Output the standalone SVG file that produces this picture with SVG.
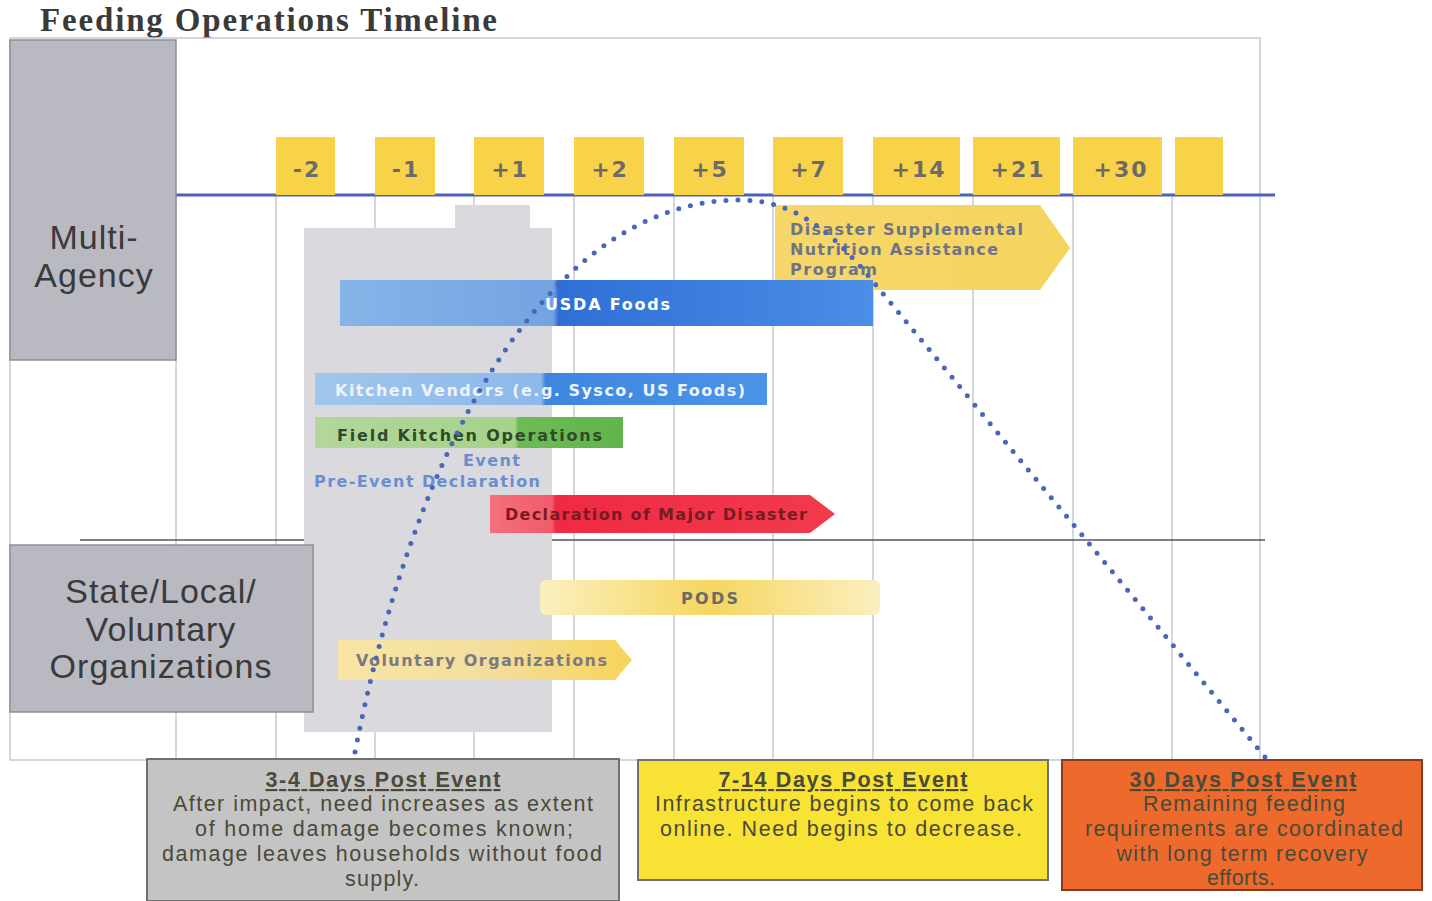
<svg xmlns="http://www.w3.org/2000/svg" width="1432" height="901" viewBox="0 0 1432 901">
<defs>
<linearGradient id="gUsda" x1="0" x2="1" y1="0" y2="0"><stop offset="0" stop-color="#86b4e8"/><stop offset="0.4" stop-color="#72a4e2"/><stop offset="0.41" stop-color="#2f6fd6"/><stop offset="1" stop-color="#4a8ee6"/></linearGradient>
<linearGradient id="gKit" x1="0" x2="1"><stop offset="0" stop-color="#a0c6ec"/><stop offset="0.5" stop-color="#8cb8ea"/><stop offset="0.51" stop-color="#3d86e0"/><stop offset="1" stop-color="#4d94e8"/></linearGradient>
<linearGradient id="gField" x1="0" x2="1"><stop offset="0" stop-color="#b3d69c"/><stop offset="0.65" stop-color="#a6d28a"/><stop offset="0.66" stop-color="#6dbb55"/><stop offset="1" stop-color="#62b44c"/></linearGradient>
<linearGradient id="gRed" x1="0" x2="1"><stop offset="0" stop-color="#f47080"/><stop offset="0.18" stop-color="#f25a6a"/><stop offset="0.19" stop-color="#ef2a44"/><stop offset="1" stop-color="#f23a4c"/></linearGradient>
<linearGradient id="gSnap" x1="0" x2="1"><stop offset="0" stop-color="#f7d76a"/><stop offset="1" stop-color="#f5d45e"/></linearGradient>
<linearGradient id="gPods" x1="0" x2="1"><stop offset="0" stop-color="#fbf0c0"/><stop offset="0.5" stop-color="#f5d660"/><stop offset="1" stop-color="#fbefc0"/></linearGradient>
<linearGradient id="gVol" x1="0" x2="1"><stop offset="0" stop-color="#f8e5a4"/><stop offset="0.5" stop-color="#f3dea0"/><stop offset="1" stop-color="#f7d45a"/></linearGradient>
<style>
.grid{stroke:#c9c9d3;stroke-width:1.5;fill:none}
.day{fill:#f8d34a}
.dayt{font-family:"DejaVu Sans",sans-serif;font-weight:bold;font-size:22px;letter-spacing:2px;fill:#6b6b6b;text-anchor:middle}
.bart{font-family:"DejaVu Sans",sans-serif;font-weight:bold;font-size:16px}
.lane{fill:#b9b9c1;stroke:#8e8e98;stroke-width:1.5}
.lanet{font-family:"Liberation Sans",Arial,sans-serif;font-size:34px;letter-spacing:1px;fill:#3a3a3a;text-anchor:middle}
.boxt{font-family:"Liberation Sans",Arial,sans-serif;font-size:21.5px;fill:#4a4a3a;text-anchor:middle}
.boxh{font-weight:bold;text-decoration:underline}
</style>
</defs>
<rect width="1432" height="901" fill="#ffffff"/>
<text x="40" y="31" font-family="Liberation Serif,serif" font-weight="bold" font-size="33" fill="#3a3a3a" textLength="457" lengthAdjust="spacing">Feeding Operations Timeline</text>

<g id="frame">
<path class="grid" d="M10,38 H1260 V760 M10,38 V760 H1260"/>
<path class="grid" d="M176,195 V760 M276,195 V760 M375,195 V760 M474,195 V760 M574,195 V760 M674,195 V760 M773,195 V760 M873,195 V760 M973,195 V760 M1073,195 V760 M1172,195 V760"/>
<line x1="176" y1="195" x2="1275" y2="195" stroke="#4a62b8" stroke-width="3"/>
<line x1="80" y1="540" x2="1265" y2="540" stroke="#555560" stroke-width="1.5"/>
</g>

<g id="days">
<rect class="day" x="276" y="137" width="59" height="58"/><text class="dayt" x="307" y="177">-2</text>
<rect class="day" x="375" y="137" width="60" height="58"/><text class="dayt" x="406" y="177">-1</text>
<rect class="day" x="474" y="137" width="70" height="58"/><text class="dayt" x="510" y="177">+1</text>
<rect class="day" x="574" y="137" width="70" height="58"/><text class="dayt" x="610" y="177">+2</text>
<rect class="day" x="674" y="137" width="70" height="58"/><text class="dayt" x="710" y="177">+5</text>
<rect class="day" x="773" y="137" width="70" height="58"/><text class="dayt" x="809" y="177">+7</text>
<rect class="day" x="873" y="137" width="87" height="58"/><text class="dayt" x="919" y="177">+14</text>
<rect class="day" x="973" y="137" width="87" height="58"/><text class="dayt" x="1018" y="177">+21</text>
<rect class="day" x="1073" y="137" width="89" height="58"/><text class="dayt" x="1121" y="177">+30</text>
<rect class="day" x="1175" y="137" width="48" height="58"/>
</g>

<g id="shade">
<rect x="455" y="205" width="75" height="30" fill="#dadade"/>
<rect x="304" y="228" width="248" height="504" fill="#dadade"/>
</g>

<g id="lane-multi">
<rect class="lane" x="10" y="40" width="166" height="320"/>
<text class="lanet" x="94" y="249">Multi-</text>
<text class="lanet" x="94" y="287">Agency</text>
</g>
<g id="lane-state">
<rect class="lane" x="10" y="545" width="303" height="167"/>
<text class="lanet" x="161" y="603">State/Local/</text>
<text class="lanet" x="161" y="641">Voluntary</text>
<text class="lanet" x="161" y="678">Organizations</text>
</g>

<g id="dsnap">
<path d="M775,205 H1040 L1070,248 L1040,290 H775 Z" fill="url(#gSnap)"/>
<text class="bart" x="790" y="235" fill="#6e7488" textLength="233" lengthAdjust="spacing">Disaster Supplemental</text>
<text class="bart" x="790" y="255" fill="#6e7488" textLength="208" lengthAdjust="spacing">Nutrition Assistance</text>
<text class="bart" x="790" y="275" fill="#6e7488" textLength="87" lengthAdjust="spacing">Program</text>
</g>
<g id="usda">
<rect x="340" y="280" width="533" height="46" fill="url(#gUsda)"/>
<text class="bart" x="545" y="310" fill="#ffffff" textLength="125" lengthAdjust="spacing">USDA Foods</text>
</g>
<g id="vendors">
<rect x="315" y="373" width="452" height="32" fill="url(#gKit)"/>
<text class="bart" x="335" y="396" fill="#eef3fb" textLength="410" lengthAdjust="spacing">Kitchen Vendors (e.g. Sysco, US Foods)</text>
</g>
<g id="field">
<rect x="315" y="417" width="308" height="31" fill="url(#gField)"/>
<text class="bart" x="337" y="441" fill="#2f4a2a" textLength="265" lengthAdjust="spacing">Field Kitchen Operations</text>
</g>
<g id="predecl">
<text class="bart" x="463" y="466" fill="#6a8ed0" textLength="57" lengthAdjust="spacing">Event</text>
<text class="bart" x="314" y="487" fill="#6a8ed0" textLength="226" lengthAdjust="spacing">Pre-Event Declaration</text>
</g>
<g id="major">
<path d="M490,495 H810 L835,514 L810,533 H490 Z" fill="url(#gRed)"/>
<text class="bart" x="505" y="520" fill="#7a1a22" textLength="302" lengthAdjust="spacing">Declaration of Major Disaster</text>
</g>
<g id="pods">
<rect x="540" y="580" width="340" height="35" rx="6" fill="url(#gPods)"/>
<text class="bart" x="681" y="604" fill="#6a6a6a" textLength="57" lengthAdjust="spacing">PODS</text>
</g>
<g id="voluntary">
<path d="M338,640 H615 L632,660 L615,680 H338 Z" fill="url(#gVol)"/>
<text class="bart" x="356" y="666" fill="#7a7a80" textLength="251" lengthAdjust="spacing">Voluntary Organizations</text>
</g>

<g id="connectors">
<path d="M355,752 C420,420 560,200 740,200 C800,200 840,240 880,290 L1265,757" fill="none" stroke="#4a66b8" stroke-width="5" stroke-linecap="round" stroke-dasharray="0 12"/>
</g>

<g id="box-3-4">
<rect x="147" y="759" width="472" height="142" fill="#c4c4c4" stroke="#707070" stroke-width="2"/>
<text class="boxt boxh" x="383" y="787" textLength="235" lengthAdjust="spacing">3-4 Days Post Event</text>
<text class="boxt" x="383" y="811" textLength="420" lengthAdjust="spacing">After impact, need increases as extent</text>
<text class="boxt" x="384" y="836" textLength="378" lengthAdjust="spacing">of home damage becomes known;</text>
<text class="boxt" x="382" y="861" textLength="440" lengthAdjust="spacing">damage leaves households without food</text>
<text class="boxt" x="382" y="886" textLength="74" lengthAdjust="spacing">supply.</text>
</g>
<g id="box-7-14">
<rect x="638" y="760" width="410" height="120" fill="#f8e234" stroke="#707070" stroke-width="2"/>
<text class="boxt boxh" x="843" y="787" textLength="249" lengthAdjust="spacing">7-14 Days Post Event</text>
<text class="boxt" x="844" y="811" textLength="378" lengthAdjust="spacing">Infrastructure begins to come back</text>
<text class="boxt" x="841" y="836" textLength="362" lengthAdjust="spacing">online.  Need begins to decrease.</text>
</g>
<g id="box-30">
<rect x="1062" y="760" width="360" height="130" fill="#ee6a2c" stroke="#8a3a20" stroke-width="2"/>
<text class="boxt boxh" x="1243" y="787" fill="#4a1a10" textLength="227" lengthAdjust="spacing">30 Days Post Event</text>
<text class="boxt" x="1244" y="811" fill="#5a2a1a" textLength="202" lengthAdjust="spacing">Remaining feeding</text>
<text class="boxt" x="1244" y="836" fill="#5a2a1a" textLength="318" lengthAdjust="spacing">requirements are coordinated</text>
<text class="boxt" x="1242" y="861" fill="#5a2a1a" textLength="251" lengthAdjust="spacing">with long term recovery</text>
<text class="boxt" x="1241" y="885" fill="#5a2a1a" textLength="68" lengthAdjust="spacing">efforts.</text>
</g>
</svg>
